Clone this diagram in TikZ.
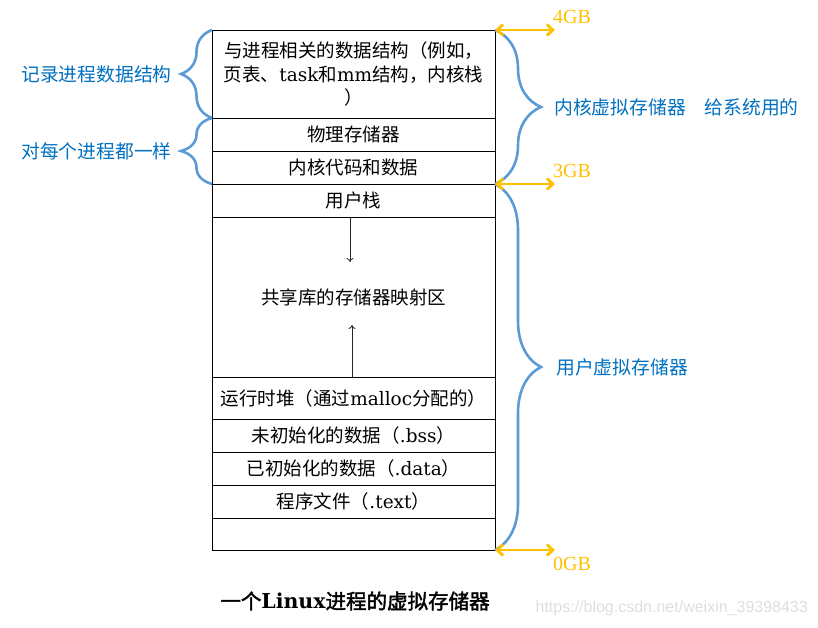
\documentclass[tikz,border=0pt]{standalone}
\usepackage{fontspec}
\setmainfont[AutoFakeBold=2]{Noto Sans CJK SC}
\newfontfamily\lat{DejaVu Serif}
\newfontfamily\gbfont{Liberation Serif}
\newfontfamily\markfont{Liberation Sans}
\usetikzlibrary{positioning, decorations.pathreplacing, arrows.meta}
\definecolor{braceblue}{RGB}{91,155,213}
\definecolor{labelblue}{RGB}{0,112,192}
\definecolor{gbyellow}{RGB}{255,192,0}

\begin{document}
\begin{tikzpicture}[x=1pt, y=-1pt,
	seg/.style = {draw, line width=0.8pt, minimum width=283pt, inner sep=0pt, outer sep=0pt,
		align=center, font=\fontsize{18.5}{23.5}\selectfont},
	lbrace/.style = {decorate, decoration={brace, amplitude=31pt}, draw=braceblue, line width=2.6pt},
	rbrace/.style = {decorate, decoration={brace, amplitude=46pt}, draw=braceblue, line width=2.6pt},
	sidelabel/.style = {text=labelblue, inner sep=0pt, font=\fontsize{18.8}{18.8}\selectfont},
	gbarrow/.style = {{Straight Barb[length=6pt, width=11pt]}-{Straight Barb[length=6pt, width=11pt]},
		draw=gbyellow, line width=2.8pt},
	gblabel/.style = {text=gbyellow, inner sep=0pt, anchor=west, font=\gbfont\fontsize{20}{20}\selectfont},
	growarrow/.style = {-{To[length=4pt, width=7pt]}, draw=black!85, line width=0.8pt}]
	\useasboundingbox (0,0) rectangle (818,627);

	% the address space, top to bottom
	\node[seg, minimum height=88pt, anchor=north west] (kdata) at (212,30)
		{与进程相关的数据结构（例如，\\页表、{\lat task}和{\lat mm}结构，内核栈\\）};
	\node[seg, minimum height=33pt, below=0pt of kdata] (phys) {物理存储器};
	\node[seg, minimum height=33pt, below=0pt of phys] (kcode) {内核代码和数据};
	\node[seg, minimum height=33pt, below=0pt of kcode] (ustack) {用户栈};
	\node[seg, minimum height=160pt, below=0pt of ustack] (shared) {共享库的存储器映射区};
	\node[seg, minimum height=42pt, below=0pt of shared] (heap) {运行时堆（通过{\lat malloc}分配的）};
	\node[seg, minimum height=33pt, below=0pt of heap] (bss) {未初始化的数据（{\lat .bss}）};
	\node[seg, minimum height=33pt, below=0pt of bss] (data) {已初始化的数据（{\lat .data}）};
	\node[seg, minimum height=33pt, below=0pt of data] (text) {程序文件（{\lat .text}）};
	\node[seg, minimum height=32pt, below=0pt of text] (blank) {};

	% stack and heap growth
	\draw[growarrow] ([xshift=-3.5pt]shared.north) -- ([xshift=-3.5pt, yshift=-45pt]shared.north);
	\draw[growarrow] ([xshift=-1.5pt]shared.south) -- ([xshift=-1.5pt, yshift=52pt]shared.south);

	% braces
	\draw[lbrace] (kdata.south west) -- (kdata.north west)
		node[midway, left=39pt, sidelabel] (lrecord) {记录进程数据结构};
	\draw[lbrace] (kcode.south west) -- (phys.north west)
		node[midway, left=39pt, sidelabel] (lsame) {对每个进程都一样};
	\draw[rbrace] (kdata.north east) -- (kcode.south east)
		node[midway, right=58pt, sidelabel] (lkernel) {内核虚拟存储器　给系统用的};
	\draw[rbrace] (ustack.north east) -- (blank.south east)
		node[midway, right=60pt, sidelabel] (luser) {用户虚拟存储器};

	% address marks
	\coordinate[right=60pt of kdata.north east] (g4);
	\coordinate[right=60pt of kcode.south east] (g3);
	\coordinate[right=60pt of blank.south east] (g0);
	\draw[gbarrow] (kdata.north east) -- (g4);
	\draw[gbarrow] (kcode.south east) -- (g3);
	\draw[gbarrow] (blank.south east) -- (g0);
	\node[gblabel] (gb4) at ([xshift=-2pt, yshift=13pt]g4) {4GB};
	\node[gblabel] (gb3) at ([xshift=-2pt, yshift=13pt]g3) {3GB};
	\node[gblabel] (gb0) at ([xshift=-2pt, yshift=-14pt]g0) {0GB};

	\node[font=\bfseries\fontsize{20.5}{20.5}\selectfont, inner sep=0pt] (title) at (355,601)
		{一个{\lat\bfseries Linux}进程的虚拟存储器};
	\node[anchor=east, inner sep=0pt, text=black!13, font=\markfont\fontsize{16}{16}\selectfont] (mark)
		at (808,608) {https://blog.csdn.net/weixin\_39398433};
\end{tikzpicture}
\end{document}
